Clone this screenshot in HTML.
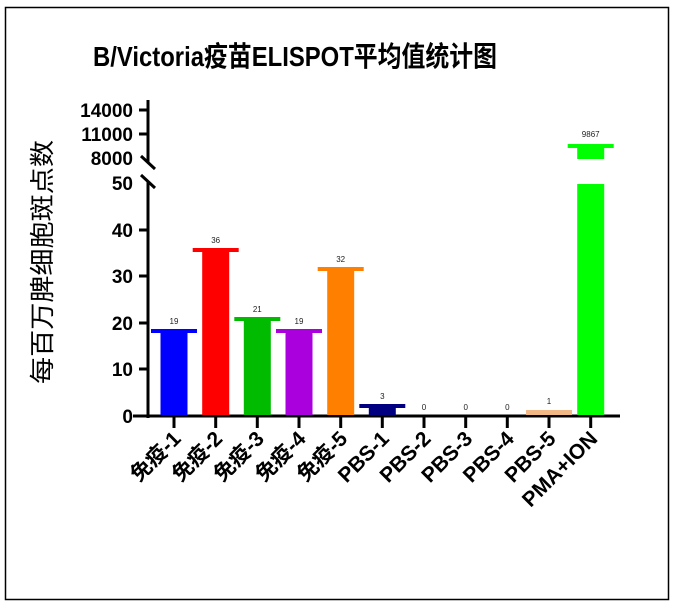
<!DOCTYPE html>
<html><head><meta charset="utf-8"><style>
html,body{margin:0;padding:0;background:#fff;}
svg{display:block;}
text{font-family:"Liberation Sans","Noto Sans CJK SC",sans-serif;}
</style></head><body>
<svg width="676" height="609" xmlns="http://www.w3.org/2000/svg">
<rect x="5.5" y="7.5" width="663" height="592" fill="none" stroke="#000" stroke-width="1.5"/>
<text x="93" y="66" font-size="28" font-weight="bold" textLength="404" lengthAdjust="spacingAndGlyphs">B/Victoria疫苗ELISPOT平均值统计图</text>
<text transform="translate(51,262) rotate(-90)" font-size="25" text-anchor="middle" textLength="244" lengthAdjust="spacingAndGlyphs" font-family="Noto Sans CJK SC, sans-serif">每百万脾细胞斑点数</text>
<g stroke="#000" stroke-width="3" fill="none">
<line x1="148" y1="100" x2="148" y2="162"/>
<line x1="148" y1="181" x2="148" y2="418"/>
<line x1="141" y1="156" x2="155" y2="169"/>
<line x1="141" y1="175" x2="155" y2="188"/>
<line x1="133" y1="416" x2="620" y2="416"/>
<line x1="139" y1="110" x2="148" y2="110"/>
<line x1="139" y1="134" x2="148" y2="134"/>
<line x1="139" y1="230" x2="148" y2="230"/>
<line x1="139" y1="276" x2="148" y2="276"/>
<line x1="139" y1="323" x2="148" y2="323"/>
<line x1="139" y1="369" x2="148" y2="369"/>
</g>
<g font-size="19" font-weight="bold" text-anchor="end">
<text x="133" y="117">14000</text>
<text x="133" y="141">11000</text>
<text x="133" y="165">8000</text>
<text x="133" y="190">50</text>
<text x="133" y="237">40</text>
<text x="133" y="283">30</text>
<text x="133" y="330">20</text>
<text x="133" y="376">10</text>
<text x="133" y="423">0</text>
</g>
<g stroke="#000" stroke-width="3">
<line x1="174" y1="416" x2="174" y2="428"/><line x1="215.7" y1="416" x2="215.7" y2="428"/><line x1="257.3" y1="416" x2="257.3" y2="428"/><line x1="299" y1="416" x2="299" y2="428"/><line x1="340.7" y1="416" x2="340.7" y2="428"/><line x1="382.3" y1="416" x2="382.3" y2="428"/><line x1="424" y1="416" x2="424" y2="428"/><line x1="465.7" y1="416" x2="465.7" y2="428"/><line x1="507.3" y1="416" x2="507.3" y2="428"/><line x1="549" y1="416" x2="549" y2="428"/><line x1="590.7" y1="416" x2="590.7" y2="428"/>
</g>
<rect x="160.5" y="331" width="27" height="84" fill="#0000ff"/><rect x="151" y="329" width="46" height="4" fill="#0000ff"/>
<rect x="202.2" y="250" width="27" height="165" fill="#ff0000"/><rect x="192.7" y="248" width="46" height="4" fill="#ff0000"/>
<rect x="243.8" y="319" width="27" height="96" fill="#00bb00"/><rect x="234.3" y="317" width="46" height="4" fill="#00bb00"/>
<rect x="285.5" y="331" width="27" height="84" fill="#aa00dd"/><rect x="276" y="329" width="46" height="4" fill="#aa00dd"/>
<rect x="327.2" y="269" width="27" height="146" fill="#ff8000"/><rect x="317.7" y="267" width="46" height="4" fill="#ff8000"/>
<rect x="368.8" y="406" width="27" height="9" fill="#000080"/><rect x="359.3" y="404" width="46" height="4" fill="#000080"/>
<rect x="526" y="410" width="46" height="5" fill="#f2b987"/>
<rect x="577.2" y="184" width="27" height="231" fill="#00ff00"/>
<rect x="577.2" y="146" width="27" height="13" fill="#00ff00"/><rect x="567.7" y="144" width="46" height="4" fill="#00ff00"/>
<g font-size="8" text-anchor="middle" fill="#222">
<text x="174" y="324">19</text><text x="215.7" y="243">36</text><text x="257.3" y="312">21</text><text x="299" y="324">19</text><text x="340.7" y="262">32</text><text x="382.3" y="399">3</text><text x="424" y="410">0</text><text x="465.7" y="410">0</text><text x="507.3" y="410">0</text><text x="549" y="404">1</text><text x="590.7" y="137">9867</text>
</g>
<g font-size="21" font-weight="bold" text-anchor="end">
<text transform="translate(182,440) rotate(-45)">免疫-1</text>
<text transform="translate(223.7,440) rotate(-45)">免疫-2</text>
<text transform="translate(265.3,440) rotate(-45)">免疫-3</text>
<text transform="translate(307,440) rotate(-45)">免疫-4</text>
<text transform="translate(348.7,440) rotate(-45)">免疫-5</text>
<text transform="translate(390.3,440) rotate(-45)">PBS-1</text>
<text transform="translate(432,440) rotate(-45)">PBS-2</text>
<text transform="translate(473.7,440) rotate(-45)">PBS-3</text>
<text transform="translate(515.3,440) rotate(-45)">PBS-4</text>
<text transform="translate(557,440) rotate(-45)">PBS-5</text>
<text transform="translate(598.7,440) rotate(-45)">PMA+ION</text>
</g>
</svg>
</body></html>
